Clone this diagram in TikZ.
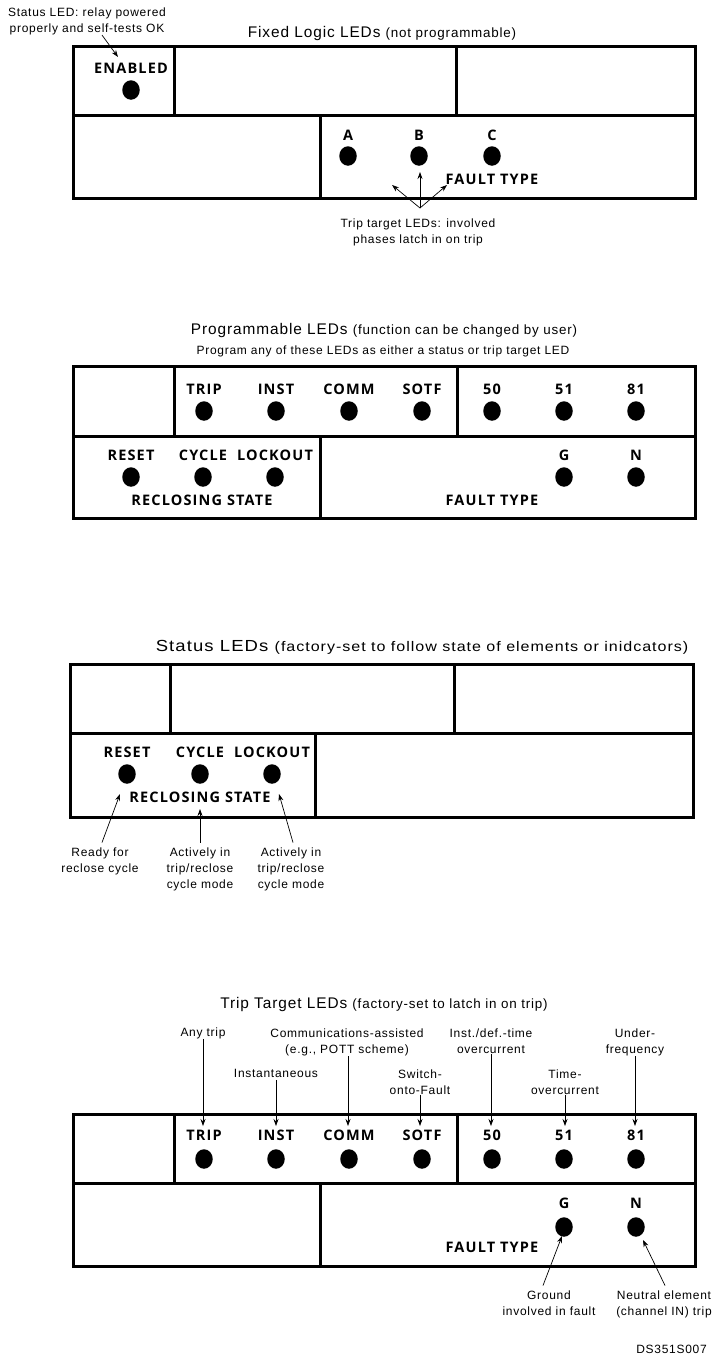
\documentclass[tikz,border=0pt]{standalone}
\usepackage{fontspec}
\usepackage{graphicx}
\usetikzlibrary{arrows.meta,shapes.geometric,calc}
\newfontfamily\annfam{Liberation Sans}[LetterSpace=6]
\newfontfamily\lblfam{Open Sans}[LetterSpace=8]
\newcommand\annsz{\annfam\fontsize{12}{16}\selectfont}
\newcommand\subsz{\annfam\fontsize{12}{16}\selectfont}
\newcommand\ttlsz{\annfam\fontsize{15.4}{18}\selectfont}
\newcommand\parsz{\annfam\fontsize{13.4}{18}\selectfont}
\newcommand\lblsz{\lblfam\bfseries\fontsize{14.5}{16}\selectfont}
\tikzset{
  frame/.style={line width=3pt, line cap=rect},
  divider/.style={line width=3pt},
  lbl/.style={font=\lblsz, inner sep=0pt, anchor=center},
  led/.style={ellipse, fill=black, minimum width=17.5pt, minimum height=19.5pt, inner sep=0pt},
  ann/.style={font=\annsz, align=center, inner sep=0pt, text height=8.6pt, text depth=2.5pt},
  annm/.style={font=\annsz, align=center, inner sep=0pt, anchor=north},
  ttl/.style={inner sep=0pt, text height=11pt, text depth=3pt},
  arr/.style={-{Stealth[length=7pt,width=5pt]}, line width=0.7pt},
}
\begin{document}
\begin{tikzpicture}[x=1pt,y=-1pt]
\useasboundingbox (0,0) rectangle (712,1368);

% ================= Panel 1: Fixed Logic LEDs =================
\node[ttl] (p1title) at (382,33) {\ttlsz Fixed Logic LEDs {\parsz (not programmable)}};
\draw[frame] (73,46) rectangle (695,198);
\draw[divider] (73,115) -- (695,115);
\draw[divider] (174,46) -- (174,115);
\draw[divider] (456,46) -- (456,115);
\draw[divider] (320,115) -- (320,198);
\node[lbl] (p1en) at (131,68) {ENABLED};
\node[led] (p1enled) at (131,90) {};
\node[lbl] (p1a) at (348,135) {A};
\node[lbl] (p1b) at (419,135) {B};
\node[lbl] (p1c) at (492,135) {C};
\node[led] (p1aled) at (348,156) {};
\node[led] (p1bled) at (419,156) {};
\node[led] (p1cled) at (492,156) {};
\node[lbl] (p1ft) at (492,179) {FAULT TYPE};
\node[annm] (p1st) at (87,7.5) {Status LED: relay powered\\properly and self-tests OK};
\coordinate (p1sttip) at (118,57);
\draw[arr] ($(p1st.south)+(15,0)$) -- (p1sttip);
\node[annm] (p1trip) at (418,218.5) {Trip target LEDs: involved\\phases latch in on trip};
\coordinate (p1conv) at (420,208);
\coordinate (p1tipa) at (392,185);
\coordinate (p1tipb) at (420,172);
\coordinate (p1tipc) at (447,185);
\draw[arr] (p1conv) -- (p1tipa);
\draw[arr] (p1conv) -- (p1tipb);
\draw[arr] (p1conv) -- (p1tipc);

% ================= Panel 2: Programmable LEDs =================
\node[ttl] (p2title) at (384,330) {\ttlsz Programmable LEDs {\parsz (function can be changed by user)}};
\node[ann, font=\subsz] (p2sub) at (383,351) {Program any of these LEDs as either a status or trip target LED};
\draw[frame] (73,366) rectangle (695,518);
\draw[divider] (73,436) -- (695,436);
\draw[divider] (174,366) -- (174,436);
\draw[divider] (457,366) -- (457,436);
\draw[divider] (320,436) -- (320,518);
\foreach \n/\t/\x in {trip/TRIP/204, inst/INST/276, comm/COMM/349, sotf/SOTF/422, l50/50/492, l51/51/564, l81/81/636}{
  \node[lbl] (p2\n) at (\x,389) {\t};
  \node[led] (p2\n led) at (\x,411) {};
}
\foreach \n/\t/\x in {reset/RESET/131, cycle/CYCLE/203, lock/LOCKOUT/275, g/G/564, n/N/636}{
  \node[lbl] (p2\n) at (\x,455) {\t};
  \node[led] (p2\n led) at (\x,477) {};
}
\node[lbl] (p2rs) at (202,500) {RECLOSING STATE};
\node[lbl] (p2ft) at (492,500) {FAULT TYPE};

% ================= Panel 3: Status LEDs =================
\node[ttl] (p3title) at (422,647) {\scalebox{1.2}[1.04]{\ttlsz Status LEDs {\parsz (factory-set to follow state of elements or inidcators)}}};
\draw[frame] (70,664) rectangle (693,817);
\draw[divider] (70,733) -- (693,733);
\draw[divider] (170,664) -- (170,733);
\draw[divider] (454,664) -- (454,733);
\draw[divider] (315,733) -- (315,817);
\foreach \n/\t/\x in {reset/RESET/127, cycle/CYCLE/200, lock/LOCKOUT/272}{
  \node[lbl] (p3\n) at (\x,752) {\t};
  \node[led] (p3\n led) at (\x,774) {};
}
\node[lbl] (p3rs) at (200,797) {RECLOSING STATE};
\node[annm] (p3ready) at (100,847.5) {Ready for\\reclose cycle};
\node[annm] (p3act1) at (200,847.5) {Actively in\\trip/reclose\\cycle mode};
\node[annm] (p3act2) at (291,847.5) {Actively in\\trip/reclose\\cycle mode};
\coordinate (p3tipr) at (120,794);
\coordinate (p3tipc) at (200,809);
\coordinate (p3tipl) at (279,794);
\draw[arr] ($(p3ready.north)+(2,-5)$) -- (p3tipr);
\draw[arr] ($(p3act1.north)+(0,-5)$) -- (p3tipc);
\draw[arr] ($(p3act2.north)+(2,-5)$) -- (p3tipl);

% ================= Panel 4: Trip Target LEDs =================
\node[ttl] (p4title) at (384,1004) {\ttlsz Trip Target LEDs {\parsz (factory-set to latch in on trip)}};
\node[ann] (p4aany) at (203,1033) {Any trip};
\node[annm] (p4acomm) at (347,1028.5) {Communications-assisted\\(e.g., POTT scheme)};
\node[ann] (p4ainst) at (276,1074) {Instantaneous};
\node[annm] (p4asotf) at (420,1069.5) {Switch-\\onto-Fault};
\node[annm] (p4a50) at (491,1028.5) {Inst./def.-time\\overcurrent};
\node[annm] (p4a51) at (565,1069.5) {Time-\\overcurrent};
\node[annm] (p4a81) at (635,1028.5) {Under-\\frequency};
\draw[frame] (73,1114) rectangle (695,1266);
\draw[divider] (73,1183) -- (695,1183);
\draw[divider] (174,1114) -- (174,1183);
\draw[divider] (457,1114) -- (457,1183);
\draw[divider] (320,1183) -- (320,1266);
\foreach \n/\t/\x in {trip/TRIP/204, inst/INST/276, comm/COMM/349, sotf/SOTF/422, l50/50/492, l51/51/564, l81/81/636}{
  \node[lbl] (p4\n) at (\x,1135) {\t};
  \node[led] (p4\n led) at (\x,1159) {};
}
\foreach \n/\t/\x in {g/G/564, n/N/636}{
  \node[lbl] (p4\n) at (\x,1203) {\t};
  \node[led] (p4\n led) at (\x,1227) {};
}
\node[lbl] (p4ft) at (492,1247) {FAULT TYPE};
\coordinate (p4tiptrip) at (203,1126);
\coordinate (p4tipinst) at (276,1126);
\coordinate (p4tipcomm) at (348,1126);
\coordinate (p4tipsotf) at (420,1126);
\coordinate (p4tip50) at (491,1126);
\coordinate (p4tip51) at (565,1126);
\coordinate (p4tip81) at (635,1126);
\draw[arr] (p4aany.south) -- (p4tiptrip);
\draw[arr] (p4ainst.south) -- (p4tipinst);
\draw[arr] ($(p4acomm.south)+(1,0)$) -- (p4tipcomm);
\draw[arr] (p4asotf.south) -- (p4tipsotf);
\draw[arr] (p4a50.south) -- (p4tip50);
\draw[arr] (p4a51.south) -- (p4tip51);
\draw[arr] (p4a81.south) -- (p4tip81);
\node[annm] (p4gnd) at (549,1290.5) {Ground\\involved in fault};
\node[annm] (p4neu) at (664,1290.5) {Neutral element\\(channel IN) trip};
\coordinate (p4tipg) at (562,1236);
\coordinate (p4tipn) at (643,1240);
\draw[arr] ($(p4gnd.north)+(-6,-5)$) -- (p4tipg);
\draw[arr] ($(p4neu.north)+(1,-5)$) -- (p4tipn);
\node[ann, anchor=east] (ds) at (707,1350) {DS351S007};
\end{tikzpicture}
\end{document}
